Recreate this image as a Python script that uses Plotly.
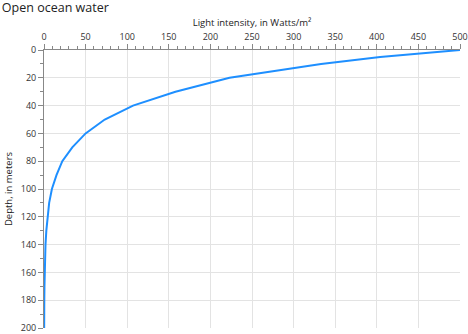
import plotly.graph_objects as go

depth_m = [0, 5, 10, 15, 20, 30, 40, 50, 60, 70, 80, 90, 100, 110, 120, 130, 140, 150, 160, 170, 180, 190, 200]
light_w = [500, 404, 333, 279, 223, 158, 107, 73, 50, 34, 22, 15, 9.5, 6.2, 4.2, 2.8, 1.8, 1.2, 0.8, 0.55, 0.35, 0.25, 0.2]

x_ticks = [0, 50, 100, 150, 200, 250, 300, 350, 400, 450, 500]
y_ticks = [0, 20, 40, 60, 80, 100, 120, 140, 160, 180, 200]

x_title = "Light intensity, in Watts/m²"
y_title = "Depth, in meters"
chart_title = "Open ocean water"

fig = go.Figure()
fig.add_trace(go.Scatter(x=light_w, y=depth_m, mode="lines",
                         line=dict(color="#1E8FFF", width=2), showlegend=False,
                         cliponaxis=False))

font = "Open Sans, Liberation Sans, sans-serif"
fig.update_layout(
    width=468, height=334,
    margin=dict(l=44, r=8, t=50, b=6, autoexpand=False),
    paper_bgcolor="white", plot_bgcolor="white",
    font=dict(family=font, size=9, color="#333"),
    title=dict(text=chart_title, x=0.004, xref="container", xanchor="left", y=0.99, yref="container", yanchor="top",
               font=dict(size=12.5, color="#222", family=font)),
    xaxis=dict(side="top", range=[0, 500], tickmode="array", tickvals=x_ticks,
               title=dict(text=x_title, font=dict(size=9.5, color="#222"), standoff=2),
               showgrid=True, gridcolor="#e3e3e3", gridwidth=1,
               showline=True, linecolor="#888", linewidth=1,
               ticks="outside", ticklen=5, tickcolor="#888",
               minor=dict(dtick=10, tick0=0, ticks="outside", ticklen=3, tickcolor="#888", showgrid=False),
               zeroline=False, fixedrange=True, automargin=False),
    yaxis=dict(range=[200, 0], tickmode="array", tickvals=y_ticks,
               title=dict(text=y_title, font=dict(size=9.5, color="#222"), standoff=6),
               showgrid=True, gridcolor="#e3e3e3", gridwidth=1,
               showline=True, linecolor="#888", linewidth=1,
               ticks="outside", ticklen=5, tickcolor="#888",
               minor=dict(dtick=10, tick0=0, ticks="outside", ticklen=3, tickcolor="#888", showgrid=False),
               zeroline=False, fixedrange=True, automargin=False, ticklabeloverflow="allow"),
)
fig.write_html("out.html")
